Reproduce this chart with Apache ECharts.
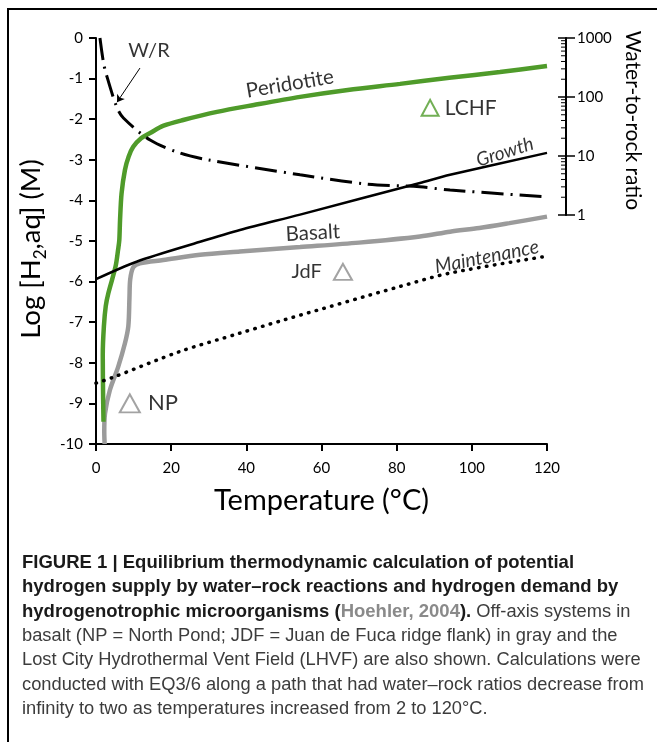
<!DOCTYPE html>
<html><head><meta charset="utf-8">
<script src="https://cdn.jsdelivr.net/npm/echarts@6/dist/echarts.min.js"></script>
<style>html,body{margin:0;padding:0;background:#fff}#c{width:657px;height:742px}</style>
</head><body><div id="c"></div><script>
// ---- data ----
const tempTicks = [0, 20, 40, 60, 80, 100, 120];
const logH2Ticks = [-10, -9, -8, -7, -6, -5, -4, -3, -2, -1, 0];
const wrMajorTicks = [1, 10, 100, 1000];
const wrMinorTicks = [2,3,4,5,6,7,8,9,20,30,40,50,60,70,80,90,200,300,400,500,600,700,800,900];

const peridotite = [[2.0,-9.45],[1.9,-8.9],[1.8,-7.8],[2.1,-7.1],[2.6,-6.6],[3.3,-6.28],[5.2,-5.63],[5.9,-5.2],[6.2,-4.98],[6.4,-4.48],[6.8,-3.83],[7.7,-3.25],[8.7,-2.92],[9.9,-2.68],[12,-2.47],[14.4,-2.34],[18,-2.16],[23.2,-2.02],[32.2,-1.82],[42,-1.65],[54.3,-1.45],[67,-1.28],[80.9,-1.13],[94,-0.98],[107.5,-0.84],[120,-0.69]];
const basalt = [[2.3,-10],[2.2,-9.7],[2.4,-9.25],[3.7,-8.67],[5.9,-8.1],[7.7,-7.52],[8.6,-7.1],[8.9,-6.4],[9.1,-5.95],[9.9,-5.65],[11.7,-5.55],[17.9,-5.47],[27.7,-5.34],[38.3,-5.26],[54.3,-5.15],[70,-5.04],[86.2,-4.89],[94.2,-4.77],[102,-4.68],[110,-4.56],[120,-4.4]];
const growth = [[0,-5.94],[10.8,-5.51],[27.7,-5.02],[38.3,-4.73],[54.3,-4.35],[86.2,-3.57],[94.2,-3.37],[120,-2.83]];
const maintenance = [[0,-8.5],[4.2,-8.37],[22.4,-7.72],[38.3,-7.27],[49.8,-6.95],[80.9,-6.12],[94.2,-5.79],[119,-5.39]];
const waterRock = [[1.05,1000],[1.95,396],[2.66,252],[5.5,68],[7.3,44],[14.4,18.6],[22.4,11.2],[29.9,8.6],[54.3,4.8],[72,3.35],[86.2,3.0],[94.2,2.65],[119.5,2.04]];
const sites = [['LCHF', 88.9, -1.72], ['JdF', 65.7, -5.76], ['NP', 9.0, -9.0]];

// ---- annotation layout ----
const annotations = [
  {text:'W/R', at:[14.1,-0.32], rotate:0, italic:false, size:20},
  {text:'Peridotite', at:[51.6,-1.13], rotate:9.5, italic:false, size:20.5},
  {text:'Growth', at:[108.8,-2.81], rotate:17.5, italic:true, size:19},
  {text:'Basalt', at:[57.7,-4.8], rotate:3, italic:false, size:20.5},
  {text:'Maintenance', at:[104,-5.39], rotate:11.3, italic:true, size:19.5}
];
const siteStyle = {
  LCHF: {color:'#4f9b2a', pos:'right', size:21, sym:[17,16], dist:5},
  JdF: {color:'#8c8c8c', pos:'left', size:20, sym:[18,16], dist:11},
  NP: {color:'#8c8c8c', pos:'right', size:22, sym:[20,18], dist:7}
};
const caption = [
  '{b|FIGURE 1 | Equilibrium thermodynamic calculation of potential}',
  '{b|hydrogen supply by water–rock reactions and hydrogen demand by}',
  '{b|hydrogenotrophic microorganisms (}{g|Hoehler, 2004}{b|).}{n| Off-axis systems in}',
  '{n|basalt (NP = North Pond; JDF = Juan de Fuca ridge flank) in gray and the}',
  '{n|Lost City Hydrothermal Vent Field (LHVF) are also shown. Calculations were}',
  '{n|conducted with EQ3/6 along a path that had water–rock ratios decrease from}',
  '{n|infinity to two as temperatures increased from 2 to 120°C.}'
];

const GREEN = '#4f9b2a', GRAY = '#9b9b9b';
const F = 'Lato';
const WR_OFFSET = 19;
const chart = echarts.init(document.getElementById('c'), null, {renderer:'canvas'});

const capFont = 'Liberation Sans';
const graphic = [
  {type:'polyline', shape:{points:[[8,742],[8,9],[657,9]]}, style:{stroke:'#000', lineWidth:2, fill:null}, silent:true}
];
caption.forEach((t, i) => {
  graphic.push({type:'text', x:22, y:563 + i*24.3, silent:true,
    style:{text:t, verticalAlign:'middle', font:'18px ' + capFont,
      rich:{
        b:{fontFamily:capFont, fontSize:18.5, fontWeight:'bold', fill:'#1a1a1a'},
        g:{fontFamily:capFont, fontSize:18.5, fontWeight:'bold', fill:'#8a8a8a'},
        n:{fontFamily:capFont, fontSize:18.3, fill:'#3c3c3c'}
      }}});
});

// inward ticks on the W/R axis, positioned by the log axis itself
const innerTicks = (values, len, w) => ({
  type:'custom', xAxisIndex:1, yAxisIndex:1, clip:false, silent:true, z:6,
  data: values.map(v => [tempTicks[tempTicks.length-1], v]),
  renderItem: (params, api) => {
    const p = api.coord([api.value(0), api.value(1)]);
    const x = p[0] + WR_OFFSET;
    return {type:'line', shape:{x1:x - len, y1:p[1], x2:x, y2:p[1]}, style:{stroke:'#000', lineWidth:w}};
  }
});

const axisTxt = {color:'#000', fontFamily:F, fontSize:15};
const option = {
  animation:false,
  backgroundColor:'#fff',
  graphic: graphic,
  grid:[
    {left:96, right:110, top:38, bottom:298},
    {left:96, right:110, top:38, height:177}
  ],
  xAxis:[
    {type:'value', gridIndex:0, min:tempTicks[0], max:tempTicks[tempTicks.length-1], interval:20,
     axisLine:{show:true, onZero:false, lineStyle:{color:'#000', width:2}},
     axisTick:{show:true, inside:false, length:7, lineStyle:{color:'#000', width:2}},
     axisLabel:Object.assign({margin:17}, axisTxt),
     splitLine:{show:false},
     name:'Temperature (°C)', nameLocation:'middle', nameGap:42,
     nameTextStyle:{fontFamily:F, fontSize:29, color:'#000'}},
    {type:'value', gridIndex:1, min:tempTicks[0], max:tempTicks[tempTicks.length-1], show:false}
  ],
  yAxis:[
    {type:'value', gridIndex:0, min:logH2Ticks[0], max:logH2Ticks[logH2Ticks.length-1], interval:1,
     axisLine:{show:true, onZero:false, lineStyle:{color:'#000', width:2}},
     axisTick:{show:true, inside:false, length:7, lineStyle:{color:'#000', width:2}},
     axisLabel:Object.assign({margin:13}, axisTxt),
     splitLine:{show:false},
     name:'{a|Log [H}{s|2}{a|,aq] (M)}', nameLocation:'middle', nameGap:44, nameRotate:90,
     nameTextStyle:{padding:[0,16,0,0], rich:{
       a:{fontFamily:F, fontSize:27.5, color:'#000'},
       s:{fontFamily:F, fontSize:17, color:'#000', verticalAlign:'bottom', padding:[0,0,-4,0]}
     }}},
    {type:'log', gridIndex:1, min:wrMajorTicks[0], max:wrMajorTicks[wrMajorTicks.length-1], logBase:10,
     position:'right', offset:WR_OFFSET,
     axisLine:{show:true, onZero:false, lineStyle:{color:'#000', width:2}},
     axisTick:{show:true, length:9, inside:false, lineStyle:{color:'#000', width:1.5}},
     axisLabel:Object.assign({margin:11, formatter: v => String(Math.round(v))}, axisTxt),
     splitLine:{show:false},
     name:'Water-to-rock ratio', nameLocation:'middle', nameGap:46, nameRotate:-90,
     nameTextStyle:{fontFamily:F, fontSize:21, color:'#000', padding:[0,12,0,0]}}
  ],
  series:[
    {type:'line', name:'Basalt', xAxisIndex:0, yAxisIndex:0, data:basalt, symbol:'none',
     smooth:0.3, lineStyle:{color:GRAY, width:4.5}, z:3},
    {type:'line', name:'Peridotite', xAxisIndex:0, yAxisIndex:0, data:peridotite, symbol:'none',
     smooth:0.3, lineStyle:{color:GREEN, width:4.5}, z:4},
    {type:'line', name:'Growth', xAxisIndex:0, yAxisIndex:0, data:growth, symbol:'none',
     smooth:0.3, lineStyle:{color:'#000', width:2.5}, z:5},
    {type:'line', name:'Maintenance', xAxisIndex:0, yAxisIndex:0, data:maintenance, symbol:'none',
     smooth:0.3, lineStyle:{color:'#000', width:3.5, type:[0.5,7.5], cap:'round'}, z:5},
    {type:'line', name:'W/R', xAxisIndex:1, yAxisIndex:1, data:waterRock, symbol:'none',
     smooth:0.3, lineStyle:{color:'#000', width:3, type:[22,7,2,7]}, z:5},
    innerTicks(wrMajorTicks, 8, 1.5),
    innerTicks(wrMinorTicks, 5, 1),
    {type:'scatter', name:'sites', xAxisIndex:0, yAxisIndex:0, symbol:'triangle',
     data: sites.map(s => ({name:s[0], value:[s[1], s[2]], symbolSize:siteStyle[s[0]].sym,
       itemStyle:{color:'rgba(0,0,0,0)', borderColor:siteStyle[s[0]].color, borderWidth:2},
       label:{show:true, position:siteStyle[s[0]].pos, distance:siteStyle[s[0]].dist, formatter:s[0],
         fontFamily:F, fontSize:siteStyle[s[0]].size, color:'#000'}})), z:6},
    {type:'scatter', name:'labels', xAxisIndex:0, yAxisIndex:0, symbolSize:0,
     data: annotations.map(a => ({value:a.at,
       label:{show:true, position:'inside', formatter:a.text, rotate:a.rotate,
         fontStyle:a.italic ? 'italic' : 'normal', fontFamily:F, fontSize:a.size, color:'#000'}})),
     markLine:{silent:true, symbol:['none','arrow'], symbolSize:7, label:{show:false},
       lineStyle:{color:'#000', width:1, type:'solid'},
       data:[[{coord:[11.7,-0.74]},{coord:[5.6,-1.58]}]]}, z:7}
  ]
};
chart.setOption(option);
</script></body></html>
